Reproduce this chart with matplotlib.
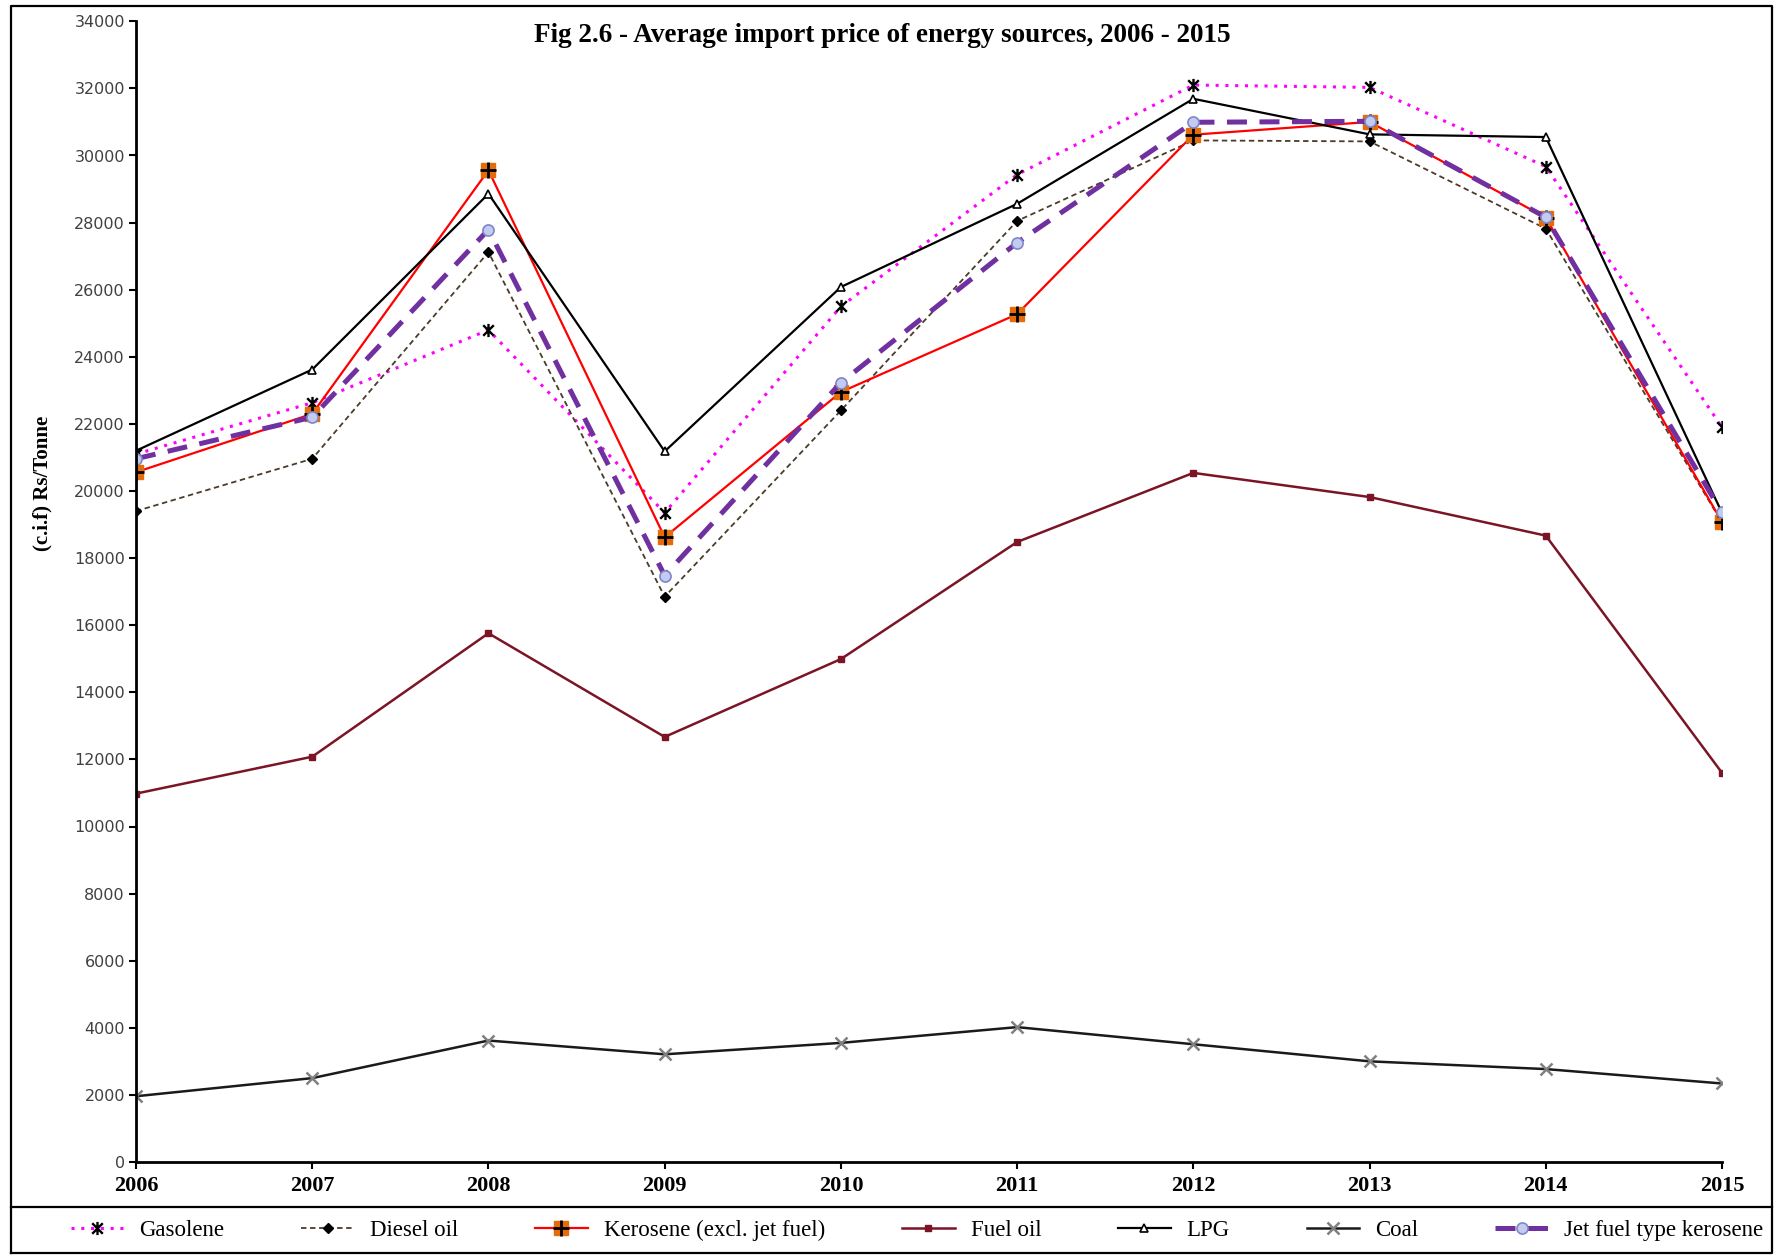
import numpy as np
import matplotlib
matplotlib.use("Agg")
import matplotlib.pyplot as plt
from matplotlib.path import Path
from matplotlib.lines import Line2D
from matplotlib.legend_handler import HandlerTuple

years = [2006, 2007, 2008, 2009, 2010, 2011, 2012, 2013, 2014, 2015]

gasolene = [21100, 22630, 24800, 19350, 25500, 29430, 32100, 32030, 29670, 21900]
diesel = [19400, 20960, 27120, 16850, 22400, 28050, 30450, 30420, 27820, 19060]
kerosene = [20560, 22300, 29560, 18620, 22950, 25270, 30620, 31000, 28150, 19080]
fuel_oil = [10980, 12080, 15760, 12670, 14990, 18480, 20540, 19820, 18670, 11600]
lpg = [21200, 23620, 28860, 21180, 26080, 28560, 31690, 30630, 30550, 19350]
coal = [1960, 2500, 3620, 3210, 3550, 4020, 3510, 3000, 2770, 2340]
jet_fuel = [20960, 22200, 27790, 17480, 23230, 27400, 30990, 31020, 28160, 19360]

yticks = np.arange(0, 34001, 2000)

serif = "Liberation Serif"

# asterisk marker: a cross with a vertical bar through it
star = Path([(-1, -1), (1, 1), (-1, 1), (1, -1), (0, -1.25), (0, 1.25)],
            [Path.MOVETO, Path.LINETO, Path.MOVETO, Path.LINETO, Path.MOVETO, Path.LINETO])

fig = plt.figure(figsize=(17.77, 12.56), dpi=100)
ax = fig.add_axes([136/1777, 94/1256, (1722-136)/1777, (1161.7-21)/1256])

l_gas, = ax.plot(years, gasolene, color='#FF00FF', linestyle=(0, (1, 2.2)), lw=2.2,
                 marker=star, ms=9.5, mec='k', mfc='none', mew=1.7)
l_die, = ax.plot(years, diesel, color='#4a3c28', linestyle=(0, (3, 2)), lw=1.3,
                 marker='D', ms=5.5, mec='k', mfc='k')
l_ker, = ax.plot(years, kerosene, color='#FF0000', lw=1.6,
                 marker='s', ms=10, mec='#E46C0A', mfc='#E46C0A')
p_ker, = ax.plot(years, kerosene, linestyle='none', marker='+', ms=11, mec='k', mew=2)
l_fuel, = ax.plot(years, fuel_oil, color='#7B1526', lw=1.8,
                  marker='s', ms=4, mec='#7B1526', mfc='#7B1526')
l_lpg, = ax.plot(years, lpg, color='k', lw=1.6,
                 marker='^', ms=5.5, mec='k', mfc='white', mew=1.2)
l_coal, = ax.plot(years, coal, color='#1a1a1a', lw=1.8,
                  marker='x', ms=9, mec='#808080', mew=1.8)
l_jet, = ax.plot(years, jet_fuel, color='#7030A0', linestyle=(0, (4, 2.5)), lw=3.6,
                 marker='o', ms=8, mec='#7F86C9', mfc='#C3CCF0', mew=1.2)

ax.set_xlim(2006, 2015)
ax.set_ylim(0, 34000)
ax.set_xticks(years)
ax.set_yticks(yticks)
ax.set_xticklabels([str(y) for y in years], fontfamily=serif, fontweight='bold', fontsize=16)
ax.set_yticklabels([str(v) for v in yticks], fontfamily='DejaVu Sans', fontsize=11.5, color='#404040')
ax.tick_params(axis='x', direction='out', length=5, width=1.5, pad=5)
ax.tick_params(axis='y', direction='out', length=5, width=1.5, pad=3)
ax.spines['top'].set_visible(False)
ax.spines['right'].set_visible(False)
ax.spines['left'].set_linewidth(2)
ax.spines['bottom'].set_linewidth(2)

fig.text(882/1777, 1 - 36/1256, "Fig 2.6 - Average import price of energy sources, 2006 - 2015",
         ha='center', va='center', fontfamily=serif, fontweight='bold', fontsize=19.5)
fig.text(42/1777, 1 - 483/1256, "(c.i.f) Rs/Tonne", rotation=90, ha='center', va='center',
         fontfamily=serif, fontweight='bold', fontsize=15)

# outer frame and the strip holding the legend
x0, x1 = 11/1777, 1772/1777
y0, y1 = 1 - 1253/1256, 1 - 6/1256
ysep = 1 - 1207/1256
for xs, ys in [([x0, x1, x1, x0, x0], [y0, y0, y1, y1, y0]), ([x0, x1], [ysep, ysep])]:
    fig.add_artist(Line2D(xs, ys, transform=fig.transFigure, color='k', lw=1.6))

handles = [l_gas, l_die, (l_ker, p_ker), l_fuel, l_lpg, l_coal, l_jet]
labels = ["Gasolene", "Diesel oil", "Kerosene (excl. jet fuel)", "Fuel oil", "LPG", "Coal",
          "Jet fuel type kerosene"]
fig.legend(handles, labels, ncol=7, loc='center', bbox_to_anchor=(0.516, 1 - 1230/1256),
           frameon=False, prop={'family': serif, 'size': 16.5}, handlelength=2.3,
           handletextpad=0.7, columnspacing=3.35,
           handler_map={tuple: HandlerTuple(ndivide=1)})

fig.savefig("out.png", dpi=100)
